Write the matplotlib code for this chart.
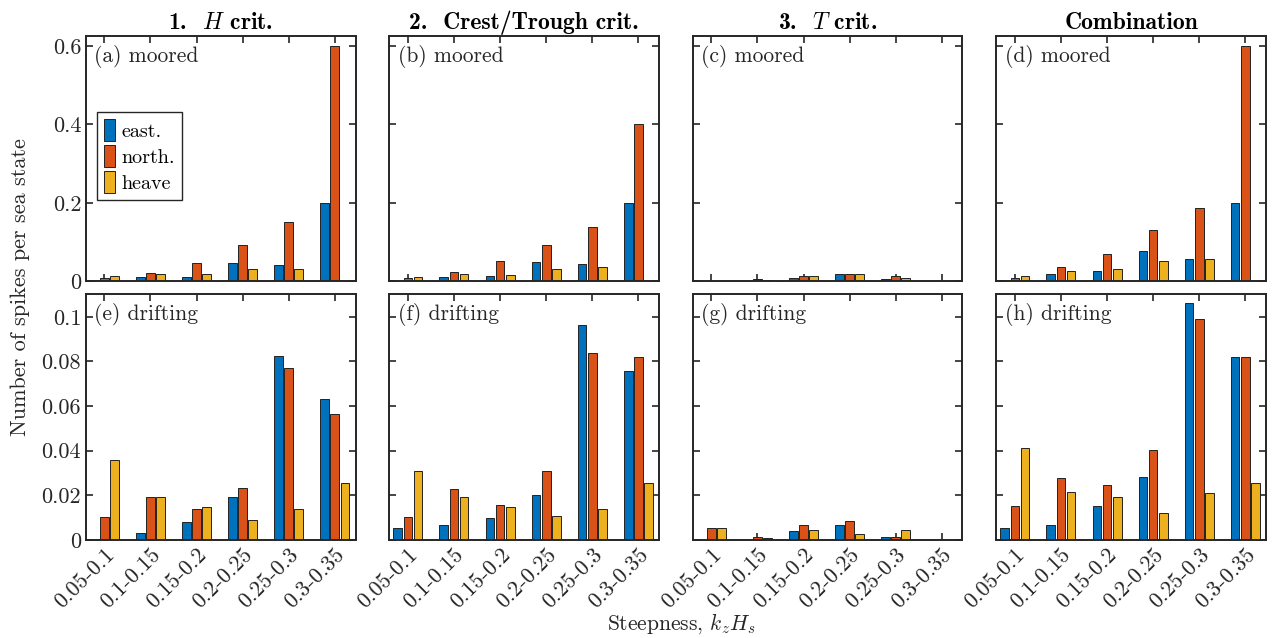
import matplotlib
matplotlib.use("Agg")
import matplotlib.pyplot as plt
import numpy as np
from matplotlib.ticker import FuncFormatter

plt.rcParams["font.family"] = ["cmr10", "DejaVu Serif"]
plt.rcParams["mathtext.fontset"] = "cm"
plt.rcParams["axes.formatter.use_mathtext"] = True

categories = ["0.05-0.1", "0.1-0.15", "0.15-0.2", "0.2-0.25", "0.25-0.3", "0.3-0.35"]
series = ["east.", "north.", "heave"]
colors = ["#0072BD", "#D95319", "#EDB120"]

titles = [r"1.  $H$ crit.", "2.  Crest/Trough crit.", r"3.  $T$ crit.", "Combination"]

# moored buoy (top row): east., north., heave
moored_h_east = [0.004, 0.011, 0.011, 0.047, 0.042, 0.200]
moored_h_north = [0.008, 0.021, 0.047, 0.092, 0.151, 0.600]
moored_h_heave = [0.013, 0.019, 0.019, 0.031, 0.032, 0.0]

moored_ct_east = [0.0025, 0.011, 0.014, 0.050, 0.045, 0.200]
moored_ct_north = [0.008, 0.023, 0.053, 0.092, 0.138, 0.400]
moored_ct_heave = [0.011, 0.019, 0.017, 0.031, 0.038, 0.0]

moored_t_east = [0.0005, 0.0025, 0.009, 0.020, 0.006, 0.0]
moored_t_north = [0.0005, 0.007, 0.014, 0.018, 0.015, 0.0]
moored_t_heave = [0.0005, 0.005, 0.014, 0.018, 0.008, 0.0]

moored_comb_east = [0.003, 0.018, 0.026, 0.078, 0.058, 0.200]
moored_comb_north = [0.010, 0.036, 0.069, 0.130, 0.188, 0.600]
moored_comb_heave = [0.014, 0.027, 0.031, 0.053, 0.056, 0.0]

# drifting buoy (bottom row)
drift_h_east = [0.0003, 0.0033, 0.0079, 0.0194, 0.0825, 0.0630]
drift_h_north = [0.0103, 0.0194, 0.0137, 0.0234, 0.0770, 0.0566]
drift_h_heave = [0.0360, 0.0194, 0.0148, 0.0091, 0.0140, 0.0254]

drift_ct_east = [0.0052, 0.0066, 0.0100, 0.0203, 0.0964, 0.0755]
drift_ct_north = [0.0103, 0.0228, 0.0158, 0.0307, 0.0839, 0.0818]
drift_ct_heave = [0.0307, 0.0194, 0.0148, 0.0106, 0.0140, 0.0254]

drift_t_east = [0.0002, 0.0002, 0.0039, 0.0066, 0.0015, 0.0002]
drift_t_north = [0.0052, 0.0015, 0.0069, 0.0084, 0.0015, 0.0002]
drift_t_heave = [0.0052, 0.0007, 0.0043, 0.0025, 0.0043, 0.0]

drift_comb_east = [0.0052, 0.0066, 0.0154, 0.0284, 0.1063, 0.0818]
drift_comb_north = [0.0154, 0.0279, 0.0248, 0.0404, 0.0991, 0.0818]
drift_comb_heave = [0.0410, 0.0215, 0.0194, 0.0122, 0.0212, 0.0254]

moored = [
    (moored_h_east, moored_h_north, moored_h_heave),
    (moored_ct_east, moored_ct_north, moored_ct_heave),
    (moored_t_east, moored_t_north, moored_t_heave),
    (moored_comb_east, moored_comb_north, moored_comb_heave),
]
drifting = [
    (drift_h_east, drift_h_north, drift_h_heave),
    (drift_ct_east, drift_ct_north, drift_ct_heave),
    (drift_t_east, drift_t_north, drift_t_heave),
    (drift_comb_east, drift_comb_north, drift_comb_heave),
]

fig, axes = plt.subplots(2, 4, figsize=(12.74, 6.38), dpi=100)
fig.subplots_adjust(left=0.0675, right=0.9937, top=0.9436, bottom=0.1536,
                    wspace=0.126, hspace=0.053)

x = np.arange(1, len(categories) + 1)
offsets = [-0.22, 0.0, 0.22]
fmt = FuncFormatter(lambda v, p: f"{v:g}")
letters = "abcdefgh"

for row, (data, name, ylim, yticks) in enumerate([
    (moored, "moored", 0.625, [0, 0.2, 0.4, 0.6]),
    (drifting, "drifting", 0.11, [0, 0.02, 0.04, 0.06, 0.08, 0.1]),
]):
    for col in range(4):
        ax = axes[row, col]
        ax.set_axisbelow(True)
        for k in range(3):
            ax.bar(x + offsets[k], data[col][k], width=0.19, color=colors[k],
                   edgecolor="#222222", linewidth=0.7, label=series[k])
        ax.set_xlim(0.6, 6.45)
        ax.set_ylim(0, ylim)
        ax.set_yticks(yticks)
        ax.yaxis.set_major_formatter(fmt)
        ax.set_xticks(x)
        ax.tick_params(direction="in", length=5, width=1.2, top=True, right=True,
                       labelsize=16, colors="#262626")
        for s in ax.spines.values():
            s.set_linewidth(1.4)
            s.set_color("#262626")
        if col > 0:
            ax.set_yticklabels([])
        if row == 0:
            ax.set_xticklabels([])
            ax.set_title(titles[col], fontsize=17, fontweight="bold",
                         family=["cmb10", "DejaVu Serif"], pad=5)
        else:
            ax.set_xticklabels(categories, rotation=45, ha="right",
                               rotation_mode="anchor")
        ax.text(0.03, 0.965, f"({letters[row * 4 + col]}) {name}",
                transform=ax.transAxes, ha="left", va="top", fontsize=15.5,
                color="#262626")
        if row == 0 and col == 0:
            ax.legend(loc="upper left", bbox_to_anchor=(0.04, 0.69), fontsize=14.5,
                      fancybox=False, edgecolor="#262626", framealpha=1,
                      handlelength=0.55, handleheight=1.3, handletextpad=0.35,
                      borderpad=0.35, labelspacing=0.2, borderaxespad=0)

fig.text(0.016, 0.55, "Number of spikes per sea state", rotation=90,
         ha="center", va="center", fontsize=16, color="#262626")
fig.text(0.535, 0.022, r"Steepness, $k_zH_s$", ha="center", va="center",
         fontsize=15.5, color="#262626")

fig.savefig("out.png", dpi=100)
